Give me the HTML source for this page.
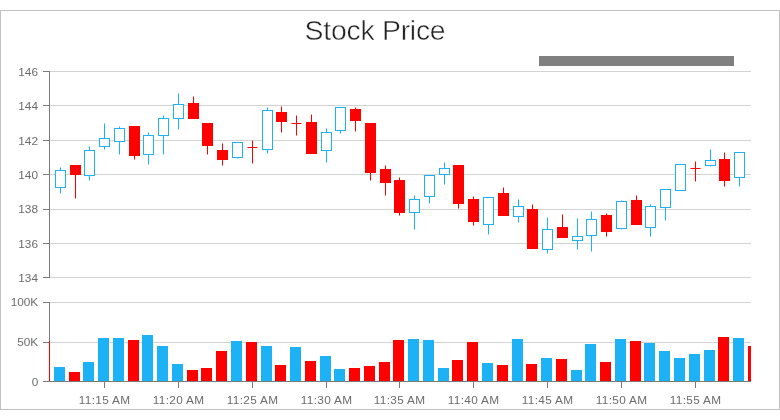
<!DOCTYPE html>
<html><head><meta charset="utf-8"><title>Stock Price</title>
<style>
html,body{margin:0;padding:0;background:#fff;}
body{width:780px;height:420px;overflow:hidden;position:relative;font-family:"Liberation Sans",sans-serif;}
#box{position:absolute;left:0;top:10px;width:778px;height:398px;border:1px solid #c2c2c2;}
svg{position:absolute;left:0;top:0;}
svg text{font-family:"Liberation Sans",sans-serif;font-size:11.8px;fill:#6c6c6c;}
svg text.title{font-size:28.4px;fill:#232323;stroke:#fff;stroke-width:0.5px;letter-spacing:-0.25px;}
</style></head><body>
<div id="box"></div>
<svg width="780" height="420" viewBox="0 0 780 420">
<text class="title" x="375" y="39.9" text-anchor="middle">Stock Price</text>
<rect x="539" y="56" width="195" height="10" fill="#808080"/>
<rect x="50" y="71" width="701" height="1" fill="#d3d3d3"/>
<rect x="50" y="105" width="701" height="1" fill="#d3d3d3"/>
<rect x="50" y="140" width="701" height="1" fill="#d3d3d3"/>
<rect x="50" y="174" width="701" height="1" fill="#d3d3d3"/>
<rect x="50" y="209" width="701" height="1" fill="#d3d3d3"/>
<rect x="50" y="243" width="701" height="1" fill="#d3d3d3"/>
<rect x="50" y="277" width="701" height="1" fill="#d3d3d3"/>
<rect x="50" y="302" width="701" height="1" fill="#d3d3d3"/>
<rect x="50" y="342" width="701" height="1" fill="#d3d3d3"/>
<rect x="60" y="167.5" width="1" height="2.5" fill="#1db2f5"/>
<rect x="60" y="188" width="1" height="5.5" fill="#1db2f5"/>
<rect x="55" y="170" width="11" height="18" fill="#1db2f5"/>
<rect x="56" y="171" width="9" height="16" fill="#fff"/>
<rect x="75" y="175" width="1" height="23.5" fill="#ff0000"/>
<rect x="70" y="165" width="11" height="10" fill="#ff0000"/>
<rect x="89" y="146.5" width="1" height="3.5" fill="#1db2f5"/>
<rect x="89" y="176" width="1" height="4.5" fill="#1db2f5"/>
<rect x="84" y="150" width="11" height="26" fill="#1db2f5"/>
<rect x="85" y="151" width="9" height="24" fill="#fff"/>
<rect x="104" y="123.5" width="1" height="14.5" fill="#1db2f5"/>
<rect x="104" y="147" width="1" height="2.5" fill="#1db2f5"/>
<rect x="99" y="138" width="11" height="9" fill="#1db2f5"/>
<rect x="100" y="139" width="9" height="7" fill="#fff"/>
<rect x="119" y="126.5" width="1" height="1.5" fill="#1db2f5"/>
<rect x="119" y="142" width="1" height="12.5" fill="#1db2f5"/>
<rect x="114" y="128" width="11" height="14" fill="#1db2f5"/>
<rect x="115" y="129" width="9" height="12" fill="#fff"/>
<rect x="134" y="156" width="1" height="3.5" fill="#ff0000"/>
<rect x="129" y="126" width="11" height="30" fill="#ff0000"/>
<rect x="148" y="132.5" width="1" height="2.5" fill="#1db2f5"/>
<rect x="148" y="155" width="1" height="9.5" fill="#1db2f5"/>
<rect x="143" y="135" width="11" height="20" fill="#1db2f5"/>
<rect x="144" y="136" width="9" height="18" fill="#fff"/>
<rect x="163" y="115.5" width="1" height="2.5" fill="#1db2f5"/>
<rect x="163" y="136" width="1" height="18.5" fill="#1db2f5"/>
<rect x="158" y="118" width="11" height="18" fill="#1db2f5"/>
<rect x="159" y="119" width="9" height="16" fill="#fff"/>
<rect x="178" y="93.5" width="1" height="10.5" fill="#1db2f5"/>
<rect x="178" y="119" width="1" height="10.5" fill="#1db2f5"/>
<rect x="173" y="104" width="11" height="15" fill="#1db2f5"/>
<rect x="174" y="105" width="9" height="13" fill="#fff"/>
<rect x="193" y="96.5" width="1" height="6.5" fill="#ff0000"/>
<rect x="188" y="103" width="11" height="16" fill="#ff0000"/>
<rect x="207" y="146" width="1" height="8.5" fill="#ff0000"/>
<rect x="202" y="123" width="11" height="23" fill="#ff0000"/>
<rect x="222" y="143.5" width="1" height="6.5" fill="#ff0000"/>
<rect x="222" y="160" width="1" height="5.5" fill="#ff0000"/>
<rect x="217" y="150" width="11" height="10" fill="#ff0000"/>
<rect x="237" y="158" width="1" height="0.5" fill="#1db2f5"/>
<rect x="232" y="142" width="11" height="16" fill="#1db2f5"/>
<rect x="233" y="143" width="9" height="14" fill="#fff"/>
<rect x="252" y="140.5" width="1" height="6.5" fill="#ff0000"/>
<rect x="252" y="148" width="1" height="15.5" fill="#ff0000"/>
<rect x="247.5" y="147" width="10" height="1" fill="#ff0000"/>
<rect x="267" y="107.5" width="1" height="2.5" fill="#1db2f5"/>
<rect x="267" y="150" width="1" height="3.5" fill="#1db2f5"/>
<rect x="262" y="110" width="11" height="40" fill="#1db2f5"/>
<rect x="263" y="111" width="9" height="38" fill="#fff"/>
<rect x="281" y="106.5" width="1" height="5.5" fill="#ff0000"/>
<rect x="281" y="122" width="1" height="10.5" fill="#ff0000"/>
<rect x="276" y="112" width="11" height="10" fill="#ff0000"/>
<rect x="296" y="115.5" width="1" height="7.5" fill="#ff0000"/>
<rect x="296" y="124" width="1" height="11.5" fill="#ff0000"/>
<rect x="291.5" y="123" width="10" height="1" fill="#ff0000"/>
<rect x="311" y="114.5" width="1" height="7.5" fill="#ff0000"/>
<rect x="306" y="122" width="11" height="32" fill="#ff0000"/>
<rect x="326" y="128.5" width="1" height="3.5" fill="#1db2f5"/>
<rect x="326" y="151" width="1" height="11.5" fill="#1db2f5"/>
<rect x="321" y="132" width="11" height="19" fill="#1db2f5"/>
<rect x="322" y="133" width="9" height="17" fill="#fff"/>
<rect x="340" y="131" width="1" height="2.5" fill="#1db2f5"/>
<rect x="335" y="107" width="11" height="24" fill="#1db2f5"/>
<rect x="336" y="108" width="9" height="22" fill="#fff"/>
<rect x="355" y="107.5" width="1" height="1.5" fill="#ff0000"/>
<rect x="355" y="121" width="1" height="10.5" fill="#ff0000"/>
<rect x="350" y="109" width="11" height="12" fill="#ff0000"/>
<rect x="370" y="173" width="1" height="7.5" fill="#ff0000"/>
<rect x="365" y="123" width="11" height="50" fill="#ff0000"/>
<rect x="385" y="165.5" width="1" height="3.5" fill="#ff0000"/>
<rect x="385" y="183" width="1" height="12.5" fill="#ff0000"/>
<rect x="380" y="169" width="11" height="14" fill="#ff0000"/>
<rect x="399" y="177.5" width="1" height="2.5" fill="#ff0000"/>
<rect x="399" y="213" width="1" height="2.5" fill="#ff0000"/>
<rect x="394" y="180" width="11" height="33" fill="#ff0000"/>
<rect x="414" y="195.5" width="1" height="3.5" fill="#1db2f5"/>
<rect x="414" y="213" width="1" height="16.5" fill="#1db2f5"/>
<rect x="409" y="199" width="11" height="14" fill="#1db2f5"/>
<rect x="410" y="200" width="9" height="12" fill="#fff"/>
<rect x="429" y="197" width="1" height="6.5" fill="#1db2f5"/>
<rect x="424" y="175" width="11" height="22" fill="#1db2f5"/>
<rect x="425" y="176" width="9" height="20" fill="#fff"/>
<rect x="444" y="162.5" width="1" height="5.5" fill="#1db2f5"/>
<rect x="444" y="175" width="1" height="9.5" fill="#1db2f5"/>
<rect x="439" y="168" width="11" height="7" fill="#1db2f5"/>
<rect x="440" y="169" width="9" height="5" fill="#fff"/>
<rect x="458" y="204" width="1" height="4.5" fill="#ff0000"/>
<rect x="453" y="165" width="11" height="39" fill="#ff0000"/>
<rect x="473" y="196.5" width="1" height="2.5" fill="#ff0000"/>
<rect x="473" y="222" width="1" height="3.5" fill="#ff0000"/>
<rect x="468" y="199" width="11" height="23" fill="#ff0000"/>
<rect x="488" y="225" width="1" height="9.5" fill="#1db2f5"/>
<rect x="483" y="197" width="11" height="28" fill="#1db2f5"/>
<rect x="484" y="198" width="9" height="26" fill="#fff"/>
<rect x="503" y="187.5" width="1" height="5.5" fill="#ff0000"/>
<rect x="498" y="193" width="11" height="23" fill="#ff0000"/>
<rect x="518" y="199.5" width="1" height="6.5" fill="#1db2f5"/>
<rect x="518" y="217" width="1" height="5.5" fill="#1db2f5"/>
<rect x="513" y="206" width="11" height="11" fill="#1db2f5"/>
<rect x="514" y="207" width="9" height="9" fill="#fff"/>
<rect x="532" y="204.5" width="1" height="4.5" fill="#ff0000"/>
<rect x="527" y="209" width="11" height="40" fill="#ff0000"/>
<rect x="547" y="217.5" width="1" height="11.5" fill="#1db2f5"/>
<rect x="547" y="250" width="1" height="3.5" fill="#1db2f5"/>
<rect x="542" y="229" width="11" height="21" fill="#1db2f5"/>
<rect x="543" y="230" width="9" height="19" fill="#fff"/>
<rect x="562" y="214.5" width="1" height="12.5" fill="#ff0000"/>
<rect x="557" y="227" width="11" height="11" fill="#ff0000"/>
<rect x="577" y="218.5" width="1" height="17.5" fill="#1db2f5"/>
<rect x="577" y="241" width="1" height="8.5" fill="#1db2f5"/>
<rect x="572" y="236" width="11" height="5" fill="#1db2f5"/>
<rect x="573" y="237" width="9" height="3" fill="#fff"/>
<rect x="591" y="211.5" width="1" height="7.5" fill="#1db2f5"/>
<rect x="591" y="236" width="1" height="15.5" fill="#1db2f5"/>
<rect x="586" y="219" width="11" height="17" fill="#1db2f5"/>
<rect x="587" y="220" width="9" height="15" fill="#fff"/>
<rect x="606" y="213.5" width="1" height="1.5" fill="#ff0000"/>
<rect x="606" y="232" width="1" height="4.5" fill="#ff0000"/>
<rect x="601" y="215" width="11" height="17" fill="#ff0000"/>
<rect x="621" y="200.5" width="1" height="0.5" fill="#1db2f5"/>
<rect x="621" y="229" width="1" height="0.5" fill="#1db2f5"/>
<rect x="616" y="201" width="11" height="28" fill="#1db2f5"/>
<rect x="617" y="202" width="9" height="26" fill="#fff"/>
<rect x="636" y="195.5" width="1" height="4.5" fill="#ff0000"/>
<rect x="631" y="200" width="11" height="25" fill="#ff0000"/>
<rect x="650" y="204.5" width="1" height="1.5" fill="#1db2f5"/>
<rect x="650" y="228" width="1" height="8.5" fill="#1db2f5"/>
<rect x="645" y="206" width="11" height="22" fill="#1db2f5"/>
<rect x="646" y="207" width="9" height="20" fill="#fff"/>
<rect x="665" y="208" width="1" height="12.5" fill="#1db2f5"/>
<rect x="660" y="189" width="11" height="19" fill="#1db2f5"/>
<rect x="661" y="190" width="9" height="17" fill="#fff"/>
<rect x="675" y="164" width="11" height="27" fill="#1db2f5"/>
<rect x="676" y="165" width="9" height="25" fill="#fff"/>
<rect x="695" y="161.5" width="1" height="6.5" fill="#ff0000"/>
<rect x="695" y="169" width="1" height="12.5" fill="#ff0000"/>
<rect x="690.5" y="168" width="10" height="1" fill="#ff0000"/>
<rect x="710" y="149.5" width="1" height="10.5" fill="#1db2f5"/>
<rect x="710" y="166" width="1" height="0.5" fill="#1db2f5"/>
<rect x="705" y="160" width="11" height="6" fill="#1db2f5"/>
<rect x="706" y="161" width="9" height="4" fill="#fff"/>
<rect x="724" y="152.5" width="1" height="6.5" fill="#ff0000"/>
<rect x="724" y="181" width="1" height="5.5" fill="#ff0000"/>
<rect x="719" y="159" width="11" height="22" fill="#ff0000"/>
<rect x="739" y="178" width="1" height="8.5" fill="#1db2f5"/>
<rect x="734" y="152" width="11" height="26" fill="#1db2f5"/>
<rect x="735" y="153" width="9" height="24" fill="#fff"/>
<rect x="54" y="367" width="11" height="14" fill="#1db2f5"/>
<rect x="69" y="372" width="11" height="9" fill="#ff0000"/>
<rect x="83" y="362" width="11" height="19" fill="#1db2f5"/>
<rect x="98" y="338" width="11" height="43" fill="#1db2f5"/>
<rect x="113" y="338" width="11" height="43" fill="#1db2f5"/>
<rect x="128" y="340" width="11" height="41" fill="#ff0000"/>
<rect x="142" y="335" width="11" height="46" fill="#1db2f5"/>
<rect x="157" y="346" width="11" height="35" fill="#1db2f5"/>
<rect x="172" y="364" width="11" height="17" fill="#1db2f5"/>
<rect x="187" y="370" width="11" height="11" fill="#ff0000"/>
<rect x="201" y="368" width="11" height="13" fill="#ff0000"/>
<rect x="216" y="351" width="11" height="30" fill="#ff0000"/>
<rect x="231" y="341" width="11" height="40" fill="#1db2f5"/>
<rect x="246" y="342" width="11" height="39" fill="#ff0000"/>
<rect x="261" y="346" width="11" height="35" fill="#1db2f5"/>
<rect x="275" y="365" width="11" height="16" fill="#ff0000"/>
<rect x="290" y="347" width="11" height="34" fill="#1db2f5"/>
<rect x="305" y="361" width="11" height="20" fill="#ff0000"/>
<rect x="320" y="356" width="11" height="25" fill="#1db2f5"/>
<rect x="334" y="369" width="11" height="12" fill="#1db2f5"/>
<rect x="349" y="368" width="11" height="13" fill="#ff0000"/>
<rect x="364" y="366" width="11" height="15" fill="#ff0000"/>
<rect x="379" y="362" width="11" height="19" fill="#ff0000"/>
<rect x="393" y="340" width="11" height="41" fill="#ff0000"/>
<rect x="408" y="339" width="11" height="42" fill="#1db2f5"/>
<rect x="423" y="340" width="11" height="41" fill="#1db2f5"/>
<rect x="438" y="368" width="11" height="13" fill="#1db2f5"/>
<rect x="452" y="360" width="11" height="21" fill="#ff0000"/>
<rect x="467" y="342" width="11" height="39" fill="#ff0000"/>
<rect x="482" y="363" width="11" height="18" fill="#1db2f5"/>
<rect x="497" y="365" width="11" height="16" fill="#ff0000"/>
<rect x="512" y="339" width="11" height="42" fill="#1db2f5"/>
<rect x="526" y="364" width="11" height="17" fill="#ff0000"/>
<rect x="541" y="358" width="11" height="23" fill="#1db2f5"/>
<rect x="556" y="359" width="11" height="22" fill="#ff0000"/>
<rect x="571" y="370" width="11" height="11" fill="#1db2f5"/>
<rect x="585" y="344" width="11" height="37" fill="#1db2f5"/>
<rect x="600" y="362" width="11" height="19" fill="#ff0000"/>
<rect x="615" y="339" width="11" height="42" fill="#1db2f5"/>
<rect x="630" y="341" width="11" height="40" fill="#ff0000"/>
<rect x="644" y="343" width="11" height="38" fill="#1db2f5"/>
<rect x="659" y="351" width="11" height="30" fill="#1db2f5"/>
<rect x="674" y="358" width="11" height="23" fill="#1db2f5"/>
<rect x="689" y="354" width="11" height="27" fill="#1db2f5"/>
<rect x="704" y="350" width="11" height="31" fill="#1db2f5"/>
<rect x="718" y="337" width="11" height="44" fill="#ff0000"/>
<rect x="733" y="338" width="11" height="43" fill="#1db2f5"/>
<rect x="748" y="346" width="3" height="35" fill="#ff0000"/>
<rect x="49" y="71" width="1" height="207" fill="#7a7a7a"/>
<rect x="49" y="302" width="1" height="80" fill="#7a7a7a"/>
<rect x="49" y="341" width="1" height="40" fill="#ff0000"/>
<rect x="43" y="381" width="708" height="1" fill="#7a7a7a"/>
<rect x="43" y="71" width="6" height="1" fill="#7a7a7a"/>
<rect x="43" y="105" width="6" height="1" fill="#7a7a7a"/>
<rect x="43" y="140" width="6" height="1" fill="#7a7a7a"/>
<rect x="43" y="174" width="6" height="1" fill="#7a7a7a"/>
<rect x="43" y="209" width="6" height="1" fill="#7a7a7a"/>
<rect x="43" y="243" width="6" height="1" fill="#7a7a7a"/>
<rect x="43" y="277" width="6" height="1" fill="#7a7a7a"/>
<rect x="43" y="302" width="6" height="1" fill="#7a7a7a"/>
<rect x="43" y="342" width="6" height="1" fill="#7a7a7a"/>
<rect x="104" y="381" width="1" height="7" fill="#7a7a7a"/>
<rect x="178" y="381" width="1" height="7" fill="#7a7a7a"/>
<rect x="252" y="381" width="1" height="7" fill="#7a7a7a"/>
<rect x="326" y="381" width="1" height="7" fill="#7a7a7a"/>
<rect x="399" y="381" width="1" height="7" fill="#7a7a7a"/>
<rect x="473" y="381" width="1" height="7" fill="#7a7a7a"/>
<rect x="547" y="381" width="1" height="7" fill="#7a7a7a"/>
<rect x="621" y="381" width="1" height="7" fill="#7a7a7a"/>
<rect x="695" y="381" width="1" height="7" fill="#7a7a7a"/>
<text x="38" y="75.60" text-anchor="end">146</text>
<text x="38" y="110.07" text-anchor="end">144</text>
<text x="38" y="144.54" text-anchor="end">142</text>
<text x="38" y="179.01" text-anchor="end">140</text>
<text x="38" y="213.48" text-anchor="end">138</text>
<text x="38" y="247.95" text-anchor="end">136</text>
<text x="38" y="282.42" text-anchor="end">134</text>
<text x="38.2" y="306.2" text-anchor="end">100K</text>
<text x="38.2" y="346.2" text-anchor="end">50K</text>
<text x="38.2" y="386.4" text-anchor="end">0</text>
<text x="104.6" y="404.2" text-anchor="middle" letter-spacing="0.32">11:15 AM</text>
<text x="178.6" y="404.2" text-anchor="middle" letter-spacing="0.32">11:20 AM</text>
<text x="252.6" y="404.2" text-anchor="middle" letter-spacing="0.32">11:25 AM</text>
<text x="326.6" y="404.2" text-anchor="middle" letter-spacing="0.32">11:30 AM</text>
<text x="399.6" y="404.2" text-anchor="middle" letter-spacing="0.32">11:35 AM</text>
<text x="473.6" y="404.2" text-anchor="middle" letter-spacing="0.32">11:40 AM</text>
<text x="547.6" y="404.2" text-anchor="middle" letter-spacing="0.32">11:45 AM</text>
<text x="621.6" y="404.2" text-anchor="middle" letter-spacing="0.32">11:50 AM</text>
<text x="695.6" y="404.2" text-anchor="middle" letter-spacing="0.32">11:55 AM</text>
</svg>
</body></html>
